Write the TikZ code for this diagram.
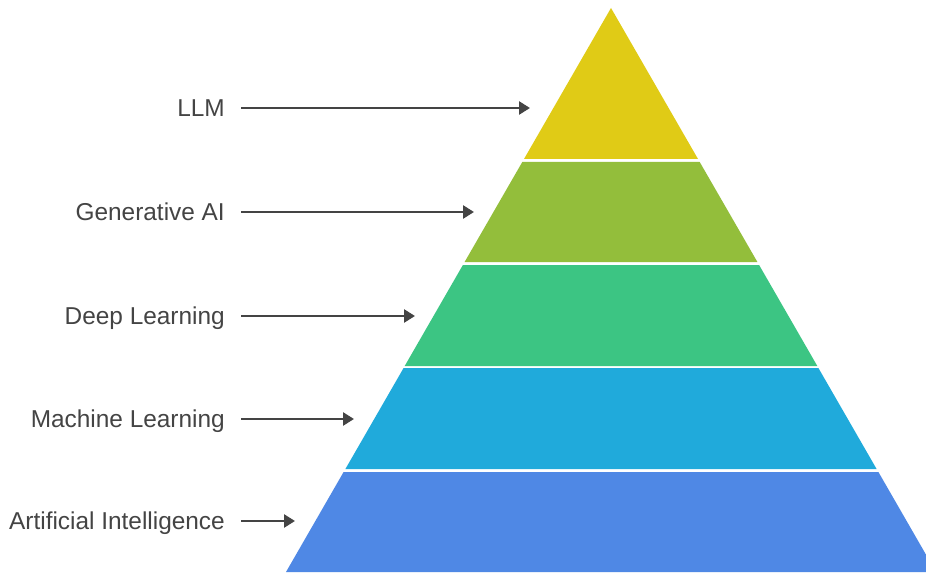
\documentclass[tikz,border=0pt]{standalone}
\usepackage{fontspec}
\setmainfont{Liberation Sans}
\usetikzlibrary{arrows.meta}
\definecolor{cyel}{RGB}{224,203,22}
\definecolor{cgrn}{RGB}{147,190,59}
\definecolor{cmint}{RGB}{60,197,131}
\definecolor{ccyan}{RGB}{32,170,219}
\definecolor{cblue}{RGB}{79,136,229}
\definecolor{ctxt}{RGB}{68,68,68}
\tikzset{
  lbl/.style={anchor=base east, inner sep=0pt, text=ctxt, font=\fontsize{24.4bp}{28bp}\selectfont},
  arr/.style={draw=ctxt, line width=2.5bp, -{Triangle[length=11bp,width=13bp]}},
  layer/.style={draw=none}
}
\begin{document}
\begin{tikzpicture}[x=1bp,y=-1bp]
\useasboundingbox (0,0) rectangle (926,574);
\clip (0,0) rectangle (926,574);
\fill[white] (0,0) rectangle (926,574);
% pyramid layers
\fill[cyel]  (611,8) -- (698.0,159) -- (524.0,159) -- cycle;
\fill[cgrn]  (522.3,162) -- (699.7,162) -- (757.4,262) -- (464.6,262) -- cycle;
\fill[cmint] (462.9,265) -- (759.1,265) -- (817.3,366) -- (404.7,366) -- cycle;
\fill[ccyan] (403.6,368) -- (818.4,368) -- (876.6,469) -- (345.4,469) -- cycle;
\fill[cblue] (343.6,472) -- (878.4,472) -- (936.0,572) -- (286.0,572) -- cycle;
% labels
\node[lbl] (l1) at (225,116.5) {LLM};
\node[lbl] (l2) at (225,220.5) {Generative AI};
\node[lbl] (l3) at (225,324.5) {Deep Learning};
\node[lbl] (l4) at (225,427.5) {Machine Learning};
\node[lbl] (l5) at (225,529.5) {Artificial Intelligence};
% arrow ends
\coordinate (s1) at (241,108); \coordinate (t1) at (530,108);
\coordinate (s2) at (241,212); \coordinate (t2) at (474,212);
\coordinate (s3) at (241,316); \coordinate (t3) at (415,316);
\coordinate (s4) at (241,419); \coordinate (t4) at (354,419);
\coordinate (s5) at (241,521); \coordinate (t5) at (295,521);
\draw[arr] (s1) -- (t1);
\draw[arr] (s2) -- (t2);
\draw[arr] (s3) -- (t3);
\draw[arr] (s4) -- (t4);
\draw[arr] (s5) -- (t5);
\end{tikzpicture}
\end{document}
